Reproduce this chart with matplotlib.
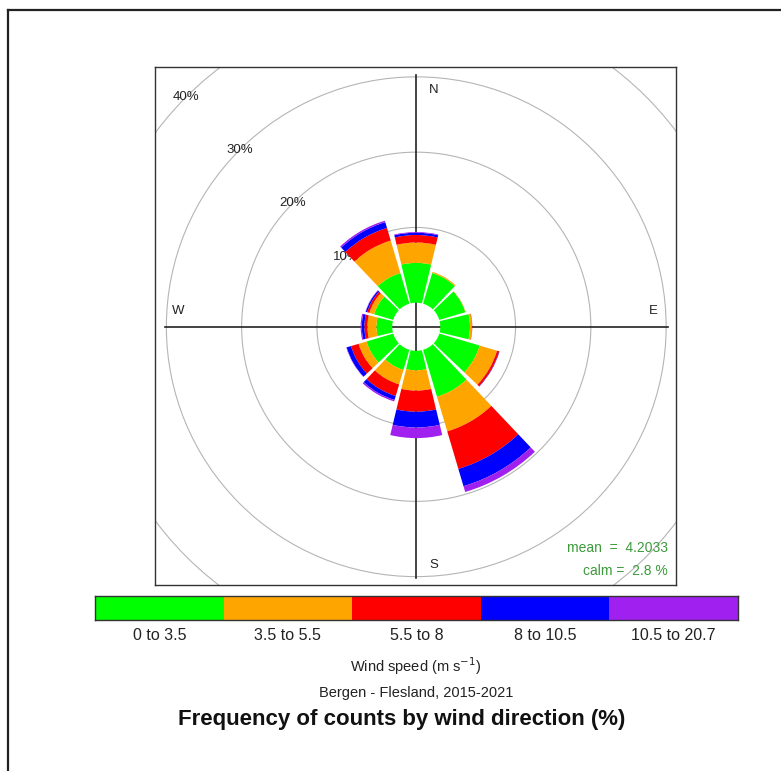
import numpy as np
import matplotlib.pyplot as plt
from matplotlib.patches import Wedge, Circle, Rectangle
from matplotlib.lines import Line2D

plt.rcParams['font.family'] = ['Liberation Sans', 'DejaVu Sans']

# wind direction bins (degrees from north) and % frequency per speed class
directions = [0, 30, 60, 90, 120, 150, 180, 210, 240, 270, 300, 330]
ws_0_35 = [5.3, 4.25, 3.6, 3.95, 5.6, 6.5, 2.6, 2.8, 3.7, 2.1, 2.65, 4.25]
ws_35_55 = [2.7, 0.15, 0.05, 0.25, 2.4, 4.8, 2.7, 2.0, 1.1, 1.2, 0.65, 4.5]
ws_55_8 = [1.0, 0.0, 0.0, 0.05, 0.3, 5.2, 2.8, 1.6, 1.05, 0.4, 0.3, 1.75]
ws_8_105 = [0.3, 0.0, 0.0, 0.0, 0.05, 2.4, 2.1, 0.55, 0.6, 0.35, 0.2, 0.8]
ws_105_207 = [0.1, 0.0, 0.0, 0.0, 0.0, 0.8, 1.4, 0.2, 0.05, 0.15, 0.05, 0.2]

speed_labels = ['0 to 3.5', '3.5 to 5.5', '5.5 to 8', '8 to 10.5', '10.5 to 20.7']
speed_cols = ['#00FF00', '#FFA500', '#FF0000', '#0000FF', '#A020F0']
rings = [10, 20, 30, 40, 50]
mean_ws = 4.2033
calm = 2.8

offset = 3.19   # empty hole in the middle
half_w = 13.5

fig = plt.figure(figsize=(7.81, 7.71), dpi=100)

# frame lines of the screenshot (top and left only)
fig.add_artist(Line2D([8/781, 8/781], [0, 1 - 10/771], color='#222222', lw=1.6))
fig.add_artist(Line2D([8/781, 1], [1 - 10/771, 1 - 10/771], color='#222222', lw=1.6))

ax = fig.add_axes([155/781, 1 - 585/771, 521/781, 518/771])
ax.set_xlim(-34.7, 34.5)
ax.set_ylim(-34.3, 34.5)
ax.set_aspect('equal')
ax.set_xticks([])
ax.set_yticks([])
for s in ax.spines.values():
    s.set_color('#333333')
    s.set_linewidth(1.0)

# grid rings + labels
for p in rings:
    ax.add_patch(Circle((0, 0), offset + p, fill=False, ec='#b5b5b5', lw=0.8, zorder=1))
    r = offset + p
    ax.text(-r * np.sqrt(0.5), r * np.sqrt(0.5), f'{p}%', ha='center', va='center',
            fontsize=9.5, color='#222222', zorder=2, clip_on=True)

# axis cross
ax.plot([0, 0], [-33.4, 33.4], color='#222222', lw=1.2, zorder=2)
ax.plot([-33.4, 33.4], [0, 0], color='#222222', lw=1.2, zorder=2)
ax.text(2.3, 31.4, 'N', fontsize=9.5, ha='center', va='center', color='#222222')
ax.text(2.3, -31.7, 'S', fontsize=9.5, ha='center', va='center', color='#222222')
ax.text(-31.6, 2.1, 'W', fontsize=9.5, ha='center', va='center', color='#222222')
ax.text(31.5, 2.1, 'E', fontsize=9.5, ha='center', va='center', color='#222222')

# stacked wedges
layers = [ws_0_35, ws_35_55, ws_55_8, ws_8_105, ws_105_207]
for i, d in enumerate(directions):
    base = 0.0
    for layer, col in zip(layers, speed_cols):
        v = layer[i]
        if v <= 0:
            continue
        ang = 90 - d
        ax.add_patch(Wedge((0, 0), offset + base + v, ang - half_w, ang + half_w,
                           width=v, fc=col, ec='none', zorder=3))
        base += v

ax.text(0.985, 0.072, f'mean  =  {mean_ws}', transform=ax.transAxes, ha='right',
        va='center', fontsize=10, color='#3c9a3c')
ax.text(0.985, 0.027, f'calm =  {calm} %', transform=ax.transAxes, ha='right',
        va='center', fontsize=10, color='#3c9a3c')

# colour key
cax = fig.add_axes([95/781, 1 - 620/771, 643/781, 24/771])
for k, col in enumerate(speed_cols):
    cax.add_patch(Rectangle((k, 0), 1, 1, fc=col, ec='none'))
    fig.text((95 + 643 * (k + 0.5) / 5) / 781, 1 - 636/771, speed_labels[k],
             ha='center', va='center', fontsize=11.5, color='#222222')
cax.set_xlim(0, 5)
cax.set_ylim(0, 1)
cax.set_xticks([])
cax.set_yticks([])
for s in cax.spines.values():
    s.set_color('#333333')
    s.set_linewidth(1.0)

fig.text(416/781, 1 - 666/771, 'Wind speed (m s$^{-1}$)', ha='center', va='center',
         fontsize=10.5, color='#222222')
fig.text(416/781, 1 - 693/771, 'Bergen - Flesland, 2015-2021', ha='center', va='center',
         fontsize=10.5, color='#222222')
fig.text(402/781, 1 - 720/771, 'Frequency of counts by wind direction (%)', ha='center',
         va='center', fontsize=16, fontweight='bold', color='#111111')

fig.savefig('out.png', dpi=100)
